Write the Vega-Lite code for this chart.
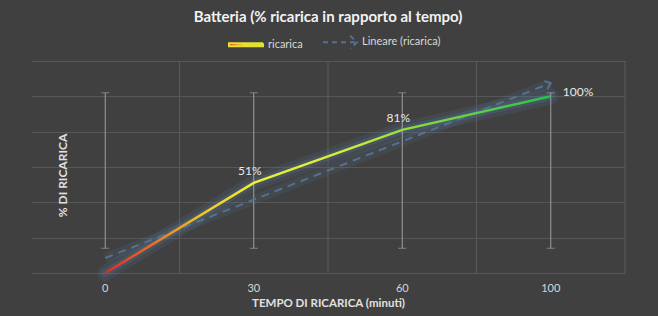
{
  "$schema": "https://vega.github.io/schema/vega-lite/v6.json",
  "width": 594,
  "height": 212,
  "autosize": {"type": "none"},
  "padding": {"left": 31, "top": 61, "right": 33, "bottom": 43},
  "background": "#404040",
  "config": {
    "view": {"stroke": null},
    "font": "Lato",
    "axisY": {"tickCount": 7, "grid": true, "gridColor": "#575757", "labels": false, "ticks": false, "domain": false},
    "title": {"color": "#f2f2f2", "fontSize": 15, "fontWeight": "bold", "font": "Lato"}
  },
  "title": {"text": "Batteria (% ricarica in rapporto al tempo)", "anchor": "middle", "offset": -1},
  "datasets": {
    "main": [
      {"t": 0, "pct": 0, "lo": 14, "hi": 102, "lab": ""},
      {"t": 30, "pct": 51, "lo": 14, "hi": 102, "lab": "51%"},
      {"t": 60, "pct": 81, "lo": 14, "hi": 102, "lab": "81%"},
      {"t": 100, "pct": 100, "lo": 14, "hi": 102, "lab": "100%"}
    ],
    "trend": [
      {"t": 0, "trend": 8.5, "series": "Lineare (ricarica)"},
      {"t": 100, "trend": 107.5, "series": "Lineare (ricarica)"}
    ]
  },
  "encoding": {
    "x": {
      "field": "t", "type": "ordinal",
      "scale": {"paddingInner": 0, "paddingOuter": 0},
      "axis": {
        "title": "TEMPO DI RICARICA (minuti)", "labelAngle": 0, "labelColor": "#d6d6d6", "labelFontSize": 11,
        "labelPadding": 9, "ticks": false, "domain": false, "grid": false,
        "titleColor": "#e0e0e0", "titleFontSize": 11.5, "titleFontWeight": "bold", "titlePadding": 4
      }
    }
  },
  "layer": [
    {
      "data": {"name": "main"},
      "mark": {"type": "rule", "color": "#5a5a5a", "strokeWidth": 1},
      "encoding": {
        "x": {"field": "t", "type": "ordinal", "bandPosition": 1},
        "y": {"datum": 0, "type": "quantitative", "scale": {"domain": [0, 120], "nice": false},
          "axis": {"title": "% DI RICARICA", "values": [0, 20, 40, 60, 80, 100, 120], "tickCount": 7, "labels": false, "ticks": false, "domain": false,
            "grid": true, "gridColor": "#575757", "titleColor": "#e0e0e0", "titleFontSize": 12, "titleFontWeight": "bold",
            "titleX": 31, "titleY": 114, "titleAngle": 270, "titleAlign": "center", "titleBaseline": "middle"}},
        "y2": {"datum": 120}
      }
    },
    {
      "data": {"name": "main"},
      "mark": {"type": "line", "color": "#5b80ac", "strokeWidth": 16, "opacity": 0.14, "strokeCap": "round"},
      "encoding": {"y": {"field": "pct", "type": "quantitative"}}
    },
    {
      "data": {"name": "main"},
      "mark": {"type": "line", "color": "#5b80ac", "strokeWidth": 8, "opacity": 0.2, "strokeCap": "round"},
      "encoding": {"y": {"field": "pct", "type": "quantitative"}}
    },
    {
      "data": {"name": "trend"},
      "mark": {"type": "line", "color": "#5b80ac", "strokeWidth": 10, "opacity": 0.12},
      "encoding": {"y": {"field": "trend", "type": "quantitative"}}
    },
    {
      "data": {"name": "main"},
      "mark": {"type": "rule", "color": "#9e9e9e", "strokeWidth": 1},
      "encoding": {"y": {"field": "lo", "type": "quantitative"}, "y2": {"field": "hi"}}
    },
    {
      "data": {"name": "main"},
      "mark": {"type": "tick", "color": "#9e9e9e", "thickness": 1, "size": 8, "orient": "horizontal"},
      "encoding": {"y": {"field": "lo", "type": "quantitative"}}
    },
    {
      "data": {"name": "main"},
      "mark": {"type": "tick", "color": "#9e9e9e", "thickness": 1, "size": 8, "orient": "horizontal"},
      "encoding": {"y": {"field": "hi", "type": "quantitative"}}
    },
    {
      "data": {"name": "trend"},
      "mark": {"type": "line", "strokeWidth": 2, "strokeDash": [8, 6]},
      "encoding": {
        "y": {"field": "trend", "type": "quantitative"},
        "color": {
          "field": "series", "type": "nominal",
          "scale": {"domain": ["ricarica", "Lineare (ricarica)"], "range": ["#e8e030", "#56708f"]},
          "legend": {
            "title": null, "orient": "none", "direction": "horizontal", "legendX": 197, "legendY": -37,
            "labelColor": "#d9d9d9", "labelFontSize": 11, "labelFont": "Lato", "symbolSize": 1156,
            "columnPadding": 16, "labelOffset": 4, "symbolType": "stroke", "symbolStrokeWidth": 2,
            "encode": {
              "symbols": {
                "update": {
                  "shape": {"signal": "datum.value === 'ricarica' ? 'M-1,-0.09L1,-0.09L1,0.09L-1,0.09Z' : 'M-1,0L0.92,0M0.6,-0.38L1,0L0.6,0.38'"},
                  "fill": {"signal": "datum.value === 'ricarica' ? {gradient: 'linear', stops: [{offset: 0, color: '#d83030'}, {offset: 0.22, color: '#f08020'}, {offset: 0.45, color: '#ece030'}, {offset: 1, color: '#c0e838'}]} : 'transparent'"},
                  "stroke": {"signal": "datum.value === 'ricarica' ? 'transparent' : '#56708f'"},
                  "strokeDash": {"signal": "datum.value === 'ricarica' ? [1, 0] : [5, 4]"}
                }
              }
            }
          }
        }
      }
    },
    {
      "data": {"name": "trend"},
      "transform": [{"filter": "datum.t === 100"}],
      "mark": {"type": "point", "shape": "M-1,-0.8L0,0L-1,0.8", "filled": false, "color": "#56708f", "strokeWidth": 2, "size": 110, "angle": 338.6, "opacity": 1},
      "encoding": {"y": {"field": "trend", "type": "quantitative"}}
    },
    {
      "data": {"name": "main"},
      "mark": {
        "type": "line", "strokeWidth": 2.5,
        "color": {"gradient": "linear", "x1": 0, "y1": 0, "x2": 1, "y2": 0, "stops": [
          {"offset": 0, "color": "#e02828"},
          {"offset": 0.1, "color": "#f06a22"},
          {"offset": 0.22, "color": "#f0c824"},
          {"offset": 0.334, "color": "#f2f030"},
          {"offset": 0.55, "color": "#d4ee38"},
          {"offset": 0.667, "color": "#92de40"},
          {"offset": 1, "color": "#26c050"}
        ]}
      },
      "encoding": {"y": {"field": "pct", "type": "quantitative"}}
    },
    {
      "data": {"name": "main"},
      "transform": [{"filter": "datum.t === 30 || datum.t === 60"}],
      "mark": {"type": "text", "color": "#e8e8e8", "fontSize": 12, "font": "Lato", "dx": -4, "dy": -12, "baseline": "middle", "align": "center"},
      "encoding": {"y": {"field": "pct", "type": "quantitative"}, "text": {"field": "lab"}}
    },
    {
      "data": {"name": "main"},
      "transform": [{"filter": "datum.t === 100"}],
      "mark": {"type": "text", "color": "#e8e8e8", "fontSize": 12, "font": "Lato", "dx": 12, "dy": -4, "baseline": "middle", "align": "left"},
      "encoding": {"y": {"field": "pct", "type": "quantitative"}, "text": {"field": "lab"}}
    }
  ]
}
